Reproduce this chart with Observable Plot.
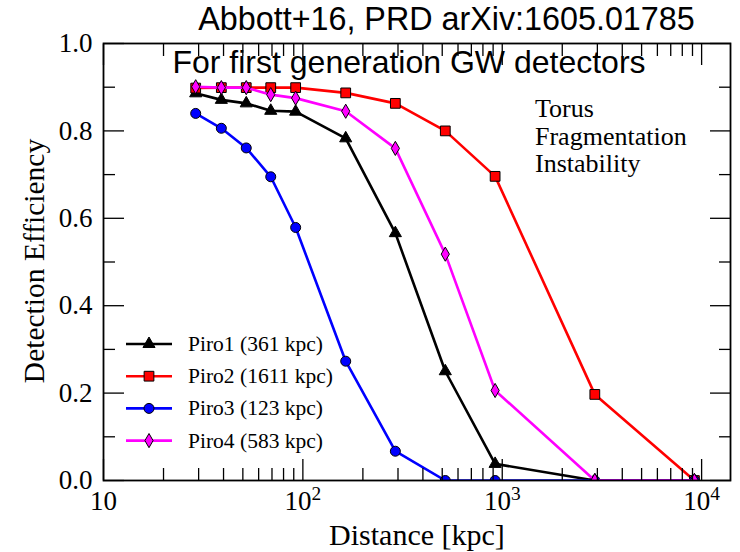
<!DOCTYPE html>
<html><head><meta charset="utf-8">
<script src="https://cdn.jsdelivr.net/npm/d3@7"></script>
<script src="https://cdn.jsdelivr.net/npm/@observablehq/plot@0.6"></script>
<style>
html,body{margin:0;padding:0;background:#fff;}
#chart{position:relative;width:740px;height:552px;overflow:hidden;}
</style></head><body><div id="chart"></div>
<script>
// ---- data ----
const distances = [29, 39, 52, 69, 92, 164, 291, 518, 921, 2913, 9200];
const piro1 = [0.886, 0.871, 0.863, 0.846, 0.844, 0.783, 0.566, 0.250, 0.038, 0.0, 0.0];
const piro2 = [0.898, 0.899, 0.899, 0.899, 0.899, 0.887, 0.863, 0.800, 0.696, 0.197, 0.0];
const piro3 = [0.840, 0.806, 0.761, 0.695, 0.579, 0.273, 0.067, 0.0, 0.0, 0.0, 0.0];
const piro4 = [0.901, 0.899, 0.899, 0.883, 0.875, 0.845, 0.760, 0.518, 0.206, 0.0, 0.0];
const seriesNames = ["Piro1 (361 kpc)", "Piro2 (1611 kpc)", "Piro3 (123 kpc)", "Piro4 (583 kpc)"];
const xTicks = [10, 100, 1000, 10000];
const xTickLabels = ["10", "10^2", "10^3", "10^4"];
const xMinorTicks = [20, 30, 40, 50, 60, 70, 80, 90, 200, 300, 400, 500, 600, 700, 800, 900, 2000, 3000, 4000, 5000, 6000, 7000, 8000, 9000];
const yTicks = [0, 0.2, 0.4, 0.6, 0.8, 1.0];
const yMinorTicks = [0.1, 0.3, 0.5, 0.7, 0.9];
const titleText = "Abbott+16, PRD arXiv:1605.01785";
const subtitleText = "For first generation GW detectors";
const annotationLines = ["Torus", "Fragmentation", "Instability"];
const xLabel = "Distance [kpc]";
const yLabel = "Detection Efficiency";

// ---- styles ----
const STYLE = [
  {color: "#000000", symbol: "triangle", r: 4.5},
  {color: "#ff0000", symbol: "square", r: 5.5},
  {color: "#0000ff", symbol: "circle", r: 5.0},
  {color: "#ff00ff", symbol: "diamond", r: 4.3}
];
const SERIF = "'Liberation Serif', 'DejaVu Serif', serif";
const SANS = "'Liberation Sans', Arial, sans-serif";

const seriesValues = [piro1, piro2, piro3, piro4];
const rows = [];
seriesValues.forEach((vals, i) => vals.forEach((v, j) => rows.push({series: seriesNames[i], idx: i, d: distances[j], eff: v})));

const labelMap = new Map(xTicks.map((t, i) => [t, xTickLabels[i]]));

const marks = [];
seriesNames.forEach((name, i) => {
  const data = rows.filter(r => r.idx === i);
  marks.push(Plot.line(data, {x: "d", y: "eff", stroke: STYLE[i].color, strokeWidth: 2.6, clip: true}));
  marks.push(Plot.dot(data, {x: "d", y: "eff", symbol: STYLE[i].symbol, r: STYLE[i].r, fill: STYLE[i].color, stroke: "#000", strokeWidth: 1, clip: true}));
});

const tickCommon = {label: null, tickFormat: () => "", strokeWidth: 1.3};
marks.push(
  Plot.axisX(xTicks, {...tickCommon, anchor: "bottom", tickSize: -21}),
  Plot.axisX(xMinorTicks, {...tickCommon, anchor: "bottom", tickSize: -12}),
  Plot.axisX(xTicks, {...tickCommon, anchor: "top", tickSize: -21}),
  Plot.axisX(xMinorTicks, {...tickCommon, anchor: "top", tickSize: -12}),
  Plot.axisY(yTicks, {...tickCommon, anchor: "left", tickSize: -21}),
  Plot.axisY(yMinorTicks, {...tickCommon, anchor: "left", tickSize: -12}),
  Plot.axisY(yTicks, {...tickCommon, anchor: "right", tickSize: -21}),
  Plot.axisY(yMinorTicks, {...tickCommon, anchor: "right", tickSize: -12}),
  Plot.axisX(xTicks, {anchor: "bottom", tickSize: 0, tickPadding: 10, label: null, fontSize: 27, tickFormat: d => labelMap.get(d)}),
  Plot.axisY(yTicks, {anchor: "left", tickSize: 0, tickPadding: 11, label: null, fontSize: 27, tickFormat: d => d.toFixed(1)}),
  Plot.frame({stroke: "#000", strokeWidth: 1.8})
);

const chart = Plot.plot({
  width: 740,
  height: 552,
  marginLeft: 103,
  marginRight: 10,
  marginTop: 43,
  marginBottom: 72,
  style: {fontFamily: SERIF, background: "#fff", color: "#000", overflow: "visible"},
  x: {type: "log", domain: [10, 13960]},
  y: {domain: [0, 1]},
  marks
});
document.getElementById("chart").appendChild(chart);

const svg = d3.select(chart);

// superscripts on x tick labels
svg.selectAll("g[aria-label='x-axis tick label'] text").each(function () {
  const t = this.textContent;
  if (t.includes("^")) {
    const [base, exp] = t.split("^");
    const el = d3.select(this);
    el.text(base);
    el.append("tspan").attr("font-size", "0.72em").attr("dy", "-0.5em").text(exp);
  }
});

// titles
svg.append("text").attr("x", 446.5).attr("y", 30).attr("text-anchor", "middle")
  .attr("font-family", SANS).attr("font-size", 32.3).attr("fill", "#000").text(titleText);
svg.append("text").attr("x", 409).attr("y", 72.5).attr("text-anchor", "middle")
  .attr("font-family", SANS).attr("font-size", 32).attr("fill", "#000").text(subtitleText);

// axis labels
svg.append("text").attr("x", 417).attr("y", 545).attr("text-anchor", "middle")
  .attr("font-family", SERIF).attr("font-size", 30).attr("fill", "#000").text(xLabel);
svg.append("text").attr("transform", "translate(44,261) rotate(-90)").attr("text-anchor", "middle")
  .attr("font-family", SERIF).attr("font-size", 29.5).attr("fill", "#000").text(yLabel);

// annotation
const ann = svg.append("text").attr("font-family", SERIF).attr("font-size", 26).attr("fill", "#000").attr("text-anchor", "start");
annotationLines.forEach((line, i) => ann.append("tspan").attr("x", 535).attr("y", 117 + i * 27.5).text(line));

// legend
const legendY0 = 344, legendDy = 32.2;
const lg = svg.append("g").attr("text-anchor", "start");
seriesNames.forEach((name, i) => {
  const y = legendY0 + i * legendDy;
  lg.append("line").attr("x1", 126).attr("x2", 172).attr("y1", y).attr("y2", y)
    .attr("stroke", STYLE[i].color).attr("stroke-width", 2.6);
  const symType = {triangle: d3.symbolTriangle, square: d3.symbolSquare, circle: d3.symbolCircle, diamond: d3.symbolDiamond}[STYLE[i].symbol];
  lg.append("path").attr("transform", `translate(149,${y})`)
    .attr("d", d3.symbol(symType, Math.PI * STYLE[i].r * STYLE[i].r)())
    .attr("fill", STYLE[i].color).attr("stroke", "#000").attr("stroke-width", 1);
  lg.append("text").attr("x", 188).attr("y", y).attr("dy", "0.33em").attr("text-anchor", "start")
    .attr("font-family", SERIF).attr("font-size", 21.5).attr("fill", "#000").text(name);
});
</script></body></html>
